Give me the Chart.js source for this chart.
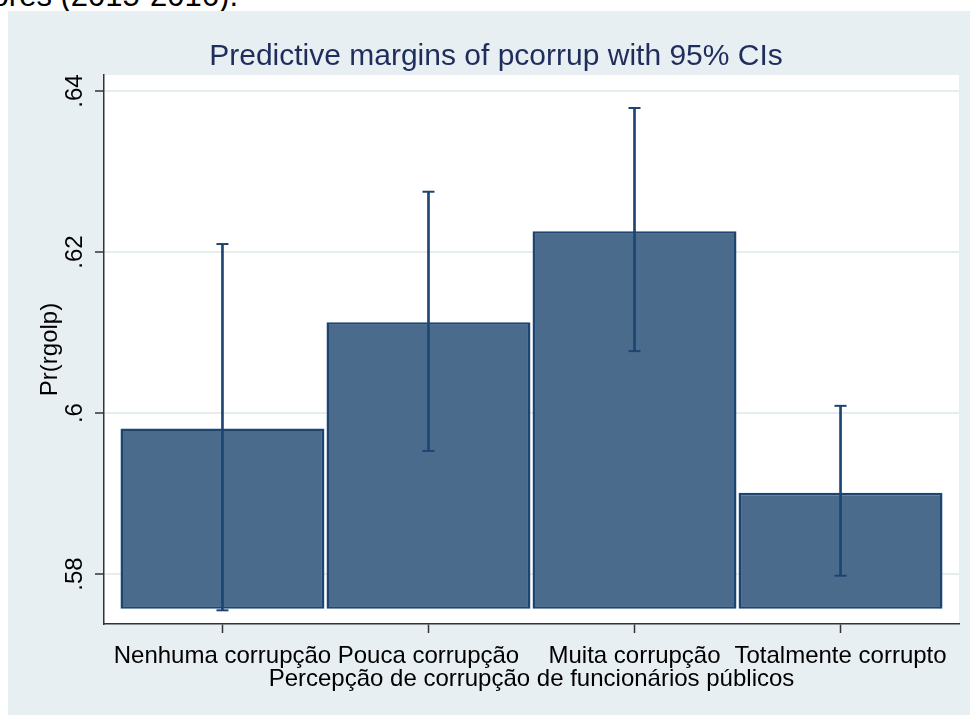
<!DOCTYPE html>
<html>
<head>
<meta charset="utf-8">
<script src="https://cdn.jsdelivr.net/npm/chart.js@4.4.1/dist/chart.umd.min.js"></script>
<style>
  html, body { margin: 0; padding: 0; background: #fff; width: 971px; height: 715px; overflow: hidden; }
  #caption { position: absolute; right: 733px; top: -20px; font: 31px "Liberation Sans", Arial, sans-serif; line-height: 31px; color: #000; white-space: nowrap; }
  #graph { position: absolute; left: 8px; top: 11px; width: 962px; height: 704px; background: #e8eff2; }
</style>
</head>
<body>
<div id="caption">eleitores (2015-2016).</div>
<div id="graph"><canvas id="chart" width="962" height="704"></canvas></div>
<script>
const categories = ["Nenhuma corrupção", "Pouca corrupção", "Muita corrupção", "Totalmente corrupto"];
const margins = [0.5981, 0.6113, 0.6226, 0.5901];
const ciLow = [0.5755, 0.5953, 0.6077, 0.5798];
const ciHigh = [0.6210, 0.6275, 0.6379, 0.6009];
const barBase = 0.5757;
const xTicks = [1, 2, 3, 4];
const yTicks = [0.58, 0.6, 0.62, 0.64];
const yTickLabels = [".58", ".6", ".62", ".64"];

const FONT = "'Liberation Sans', Arial, sans-serif";
const barFill = "#4a6b8c";
const barLine = "#1c4572";

// white plot region inside the light graph region
const plotBg = {
    id: "plotBg",
    beforeDraw(chart){
        const a = chart.chartArea;
        chart.ctx.save();
        chart.ctx.fillStyle = "#fff";
        chart.ctx.fillRect(a.left, a.top, a.right - a.left, a.bottom - a.top);
        chart.ctx.restore();
    }
};

const capPoints = [];
xTicks.forEach((x, i) => {
    capPoints.push({x: x, y: ciLow[i]});
    capPoints.push({x: x, y: ciHigh[i]});
});

new Chart(document.getElementById("chart"), {
    data: {
        datasets: [
            {
                type: "bar",
                data: xTicks.map((x, i) => ({x: x, y: margins[i]})),
                base: barBase,
                backgroundColor: barFill,
                borderColor: barLine,
                borderWidth: 2.5,
                borderSkipped: false,
                grouped: false,
                barPercentage: 0.99,
                categoryPercentage: 1,
                order: 3
            },
            {
                type: "bar",
                data: xTicks.map((x, i) => ({x: x, y: [ciLow[i], ciHigh[i]]})),
                backgroundColor: barLine,
                borderWidth: 0,
                barThickness: 2,
                grouped: false,
                order: 2
            },
            {
                type: "line",
                data: capPoints,
                showLine: false,
                pointStyle: "line",
                pointRadius: 6,
                pointHoverRadius: 6,
                pointBorderWidth: 2,
                pointBorderColor: barLine,
                order: 1
            }
        ]
    },
    options: {
        responsive: false,
        animation: false,
        layout: { padding: { left: 25, right: 11, top: 0, bottom: 0 } },
        plugins: {
            legend: { display: false },
            tooltip: { enabled: false },
            title: {
                display: true,
                text: "Predictive margins of pcorrup with 95% CIs",
                color: "#1f2d5c",
                font: { family: FONT, size: 30, weight: "normal" },
                padding: { top: 28, bottom: 0 }
            }
        },
        scales: {
            x: {
                type: "linear",
                min: 0.425,
                max: 4.575,
                offset: false,
                afterBuildTicks: s => { s.ticks = xTicks.map(v => ({value: v})); },
                afterFit: s => { s.height = 91; },
                border: { color: "#333", width: 1.5 },
                grid: { offset: false, drawOnChartArea: false, tickLength: 9, tickColor: "#333", tickWidth: 1.5 },
                ticks: {
                    autoSkip: false,
                    maxRotation: 0,
                    minRotation: 0,
                    padding: 9,
                    color: "#000",
                    font: { family: FONT, size: 24 },
                    callback: v => categories[v - 1]
                },
                title: {
                    display: true,
                    text: "Percepção de corrupção de funcionários públicos",
                    color: "#000",
                    font: { family: FONT, size: 24 },
                    padding: { top: 0, bottom: 21 }
                }
            },
            y: {
                min: 0.5738,
                max: 0.642,
                afterBuildTicks: s => { s.ticks = yTicks.map(v => ({value: v})); },
                afterFit: s => { s.width = 71; },
                border: { color: "#333", width: 1.5 },
                grid: { color: "#e6edf0", lineWidth: 2, tickLength: 9, tickColor: "#333", tickWidth: 1.5 },
                ticks: {
                    minRotation: 90,
                    maxRotation: 90,
                    crossAlign: "center",
                    padding: 3,
                    color: "#000",
                    font: { family: FONT, size: 24 },
                    callback: (v, i) => yTickLabels[i]
                },
                title: {
                    display: true,
                    text: "Pr(rgolp)",
                    color: "#000",
                    font: { family: FONT, size: 24 },
                    padding: { top: 3, bottom: 0 }
                }
            }
        }
    },
    plugins: [plotBg]
});
</script>
</body>
</html>
